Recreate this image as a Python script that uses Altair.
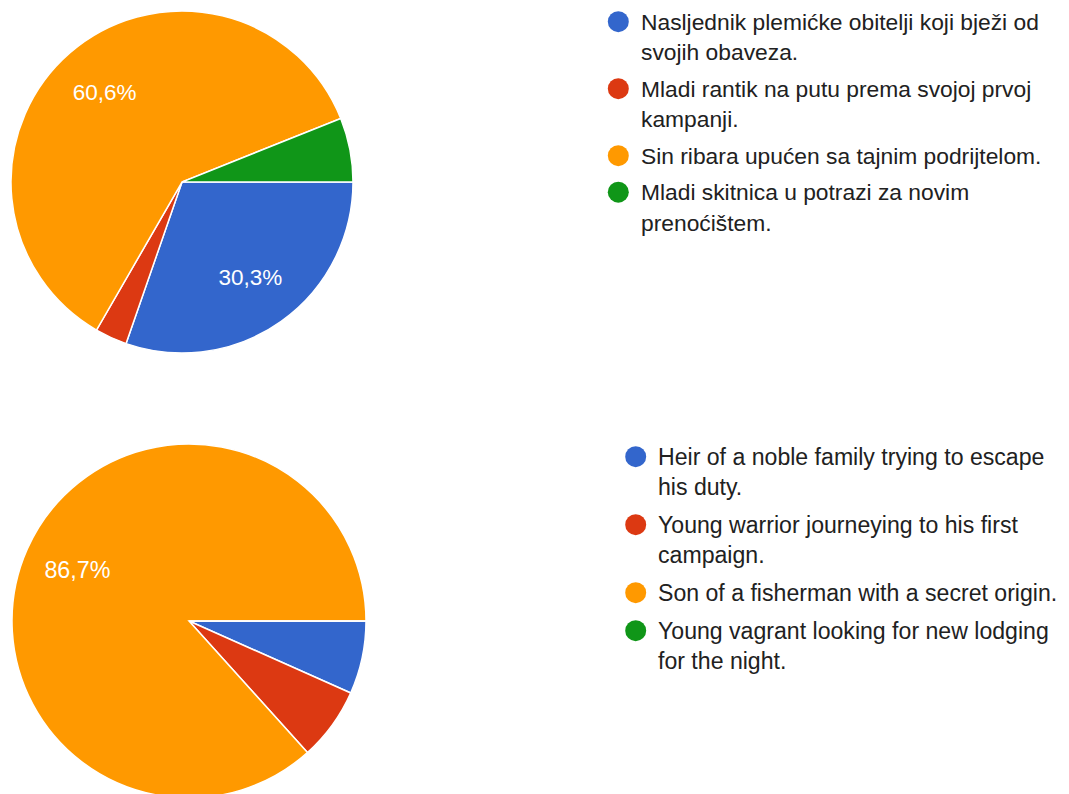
import math
import altair as alt
import pandas as pd

# ---- data ----
labels_hr = [
    "Nasljednik plemićke obitelji koji bježi od|svojih obaveza.",
    "Mladi rantik na putu prema svojoj prvoj|kampanji.",
    "Sin ribara upućen sa tajnim podrijtelom.",
    "Mladi skitnica u potrazi za novim|prenoćištem.",
]
labels_en = [
    "Heir of a noble family trying to escape|his duty.",
    "Young warrior journeying to his first|campaign.",
    "Son of a fisherman with a secret origin.",
    "Young vagrant looking for new lodging|for the night.",
]
counts_hr = [10, 1, 20, 2]
counts_en = [1, 1, 13, 0]
colors = ["#3366CC", "#DC3912", "#FF9900", "#109618"]

FONT = "Liberation Sans"


def make_df(labels, counts):
    total = sum(counts)
    pct = [c / total * 100 for c in counts]
    txt = [(f"{p:.1f}".replace(".", ",") + "%") if p >= 10 else "" for p in pct]
    return pd.DataFrame({"cat": labels, "value": counts, "idx": list(range(len(labels))), "txt": txt})


def legend_df(labels, lh, gap):
    pos, p = [], 0.0
    for lab in labels:
        pos.append(p)
        p += len(lab.split("|")) * lh + gap
    return pd.DataFrame({"cat": labels, "pos": pos})


def pie(labels, counts, cx, cy, r, sym_x, text_x, leg_y, lh, gap, fs, pfs):
    df = make_df(labels, counts)
    color_scale = alt.Scale(domain=labels, range=colors)
    theta = alt.Theta("value:Q", stack=True,
                      scale=alt.Scale(range=[math.pi / 2, math.pi / 2 + 2 * math.pi]))
    base = alt.Chart(df)
    arc = base.mark_arc(outerRadius=r, stroke="white", strokeWidth=1.5).encode(
        theta=theta,
        color=alt.Color("cat:N", scale=color_scale, legend=None),
        order=alt.Order("idx:Q"),
        x=alt.value(cx),
        y=alt.value(cy),
    )
    text = base.mark_text(radius=r * 0.69, font=FONT, fontSize=pfs, color="white").encode(
        theta=theta,
        text="txt:N",
        order=alt.Order("idx:Q"),
        x=alt.value(cx),
        y=alt.value(cy),
    )
    ldf = legend_df(labels, lh, gap)
    yenc = alt.Y("pos:Q", scale=alt.Scale(domain=[0, 1], range=[leg_y, leg_y + 1]), axis=None)
    lbase = alt.Chart(ldf)
    sym = lbase.mark_circle(size=441, opacity=1).encode(
        x=alt.value(sym_x),
        y=yenc,
        color=alt.Color("cat:N", scale=color_scale, legend=None),
    )
    lab = lbase.mark_text(
        align="left", baseline="alphabetic", lineBreak="|", lineHeight=lh, dy=8,
        font=FONT, fontSize=fs, color="#212121",
    ).encode(
        x=alt.value(text_x),
        y=yenc,
        text="cat:N",
    )
    return alt.layer(arc, text, sym, lab)


top = pie(labels_hr, counts_hr, 174, 174, 171, 610.3, 633, 13.7, 30.5, 6, 22.8, 22.5)
bottom = pie(labels_en, counts_en, 181, 613, 177, 627.7, 650, 448.7, 30, 8, 23.1, 23.3)

chart = (
    alt.layer(top, bottom)
    .resolve_scale(theta="independent", color="independent", y="independent")
    .properties(width=1053, height=786, autosize=alt.AutoSizeParams(type="none"), padding=0)
    .configure_view(stroke=None)
)

chart.save("out.html", embed_options={"renderer": "svg", "actions": False})
